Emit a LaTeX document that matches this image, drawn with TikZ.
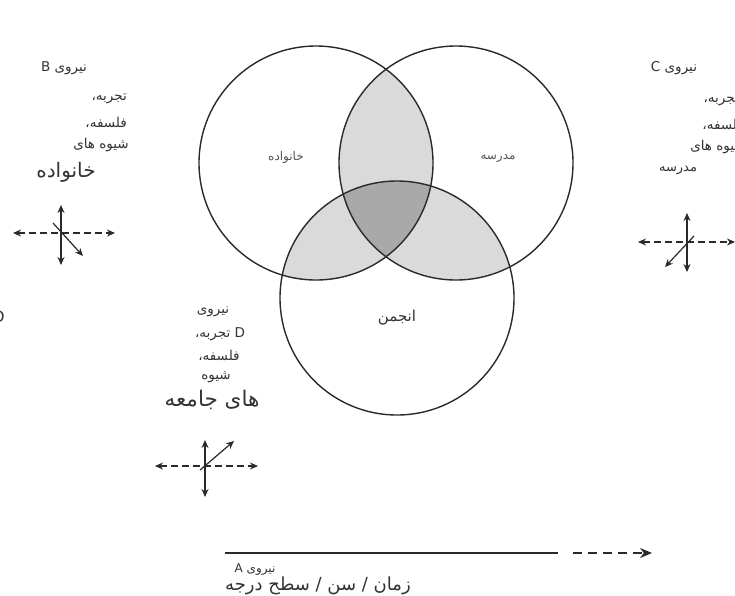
\documentclass[tikz,border=0pt]{standalone}
\usepackage{fontspec}
\setmainfont{DejaVu Sans}
\newfontfamily\arabicfont[Script=Arabic]{DejaVu Sans}
\TeXXeTstate=1
\usetikzlibrary{arrows.meta}
\definecolor{ink}{HTML}{2A2A2A}
\definecolor{txt}{HTML}{333333}
\definecolor{lighttxt}{HTML}{555555}
\definecolor{lightfill}{HTML}{DADADA}
\definecolor{darkfill}{HTML}{A9A9A9}
\tikzset{
  ring/.style={draw=ink,line width=1.4pt},
  arr/.style={draw=ink,line width=1.2pt,-{Stealth[length=8pt,width=7pt]}},
  darr/.style={draw=ink,line width=1.2pt,dash pattern=on 7pt off 4pt,{Stealth[length=8pt,width=7pt]}-{Stealth[length=8pt,width=7pt]}},
  vdarr/.style={draw=ink,line width=1.2pt,{Stealth[length=8pt,width=7pt]}-{Stealth[length=8pt,width=7pt]}},
  fa/.style={text=txt,inner sep=0pt,font=\arabicfont\fontsize{13.5}{15}\selectfont},
  fabig/.style={text=txt,inner sep=0pt,font=\arabicfont\fontsize{20}{22}\selectfont},
  incirc/.style={text=lighttxt,inner sep=0pt,font=\arabicfont\fontsize{12}{14}\selectfont}
}
\begin{document}
\begin{tikzpicture}[x=1pt,y=-1pt]
\useasboundingbox (0,0) rectangle (735,595);
\fill[white] (0,0) rectangle (735,595);
% circle centres
\coordinate (cA) at (316,163);
\coordinate (cB) at (456,163);
\coordinate (cC) at (397,298);
% pairwise overlaps
\begin{scope}\clip (cA) circle[radius=117pt]; \fill[lightfill] (cB) circle[radius=117pt];\end{scope}
\begin{scope}\clip (cA) circle[radius=117pt]; \fill[lightfill] (cC) circle[radius=117pt];\end{scope}
\begin{scope}\clip (cB) circle[radius=117pt]; \fill[lightfill] (cC) circle[radius=117pt];\end{scope}
% triple overlap
\begin{scope}\clip (cA) circle[radius=117pt]; \clip (cB) circle[radius=117pt]; \fill[darkfill] (cC) circle[radius=117pt];\end{scope}
\draw[ring] (cA) circle[radius=117pt];
\draw[ring] (cB) circle[radius=117pt];
\draw[ring] (cC) circle[radius=117pt];
% circle labels
\node[incirc] (lA) at (286,157) {\beginR خانواده\endR};
\node[incirc] (lB) at (498,158) {\beginR مدرسه\endR};
\node[fa,font=\arabicfont\fontsize{15}{17}\selectfont] (lC) at (397,318) {\beginR انجمن\endR};
% force B
\node[fa] (b1) at (64,68) {\beginR نیروی \beginL B\endL\endR};
\node[fa,anchor=east] (b2) at (127,99) {\beginR تجربه،\endR};
\node[fa,anchor=east] (b3) at (127,122) {\beginR فلسفه،\endR};
\node[fa,anchor=east] (b4) at (129,145) {\beginR شیوه های\endR};
\node[fabig] (b5) at (66,172) {\beginR خانواده\endR};
\coordinate (bL) at (13,233); \coordinate (bR) at (115,233);
\coordinate (bT) at (61,205); \coordinate (bB) at (61,265);
\coordinate (bD1) at (53,223); \coordinate (bD2) at (83,256);
\draw[darr] (bL) -- (bR);
\draw[vdarr] (bT) -- (bB);
\draw[arr] (bD1) -- (bD2);
% force C
\node[fa] (c1) at (674,68) {\beginR نیروی \beginL C\endL\endR};
\node[fa,anchor=east] (c2) at (739,101) {\beginR تجربه،\endR};
\node[fa,anchor=east] (c3) at (744,124) {\beginR فلسفه،\endR};
\node[fa,anchor=east] (c4) at (746,147) {\beginR شیوه های\endR};
\node[fa,font=\arabicfont\fontsize{13}{15}\selectfont] (c5) at (678,170) {\beginR مدرسه\endR};
\coordinate (cL) at (638,242); \coordinate (cR) at (735,242);
\coordinate (cT) at (687,213); \coordinate (cBt) at (687,272);
\coordinate (cD1) at (694,236); \coordinate (cD2) at (665,267);
\draw[darr] (cL) -- (cR);
\draw[vdarr] (cT) -- (cBt);
\draw[arr] (cD1) -- (cD2);
% partial D at left edge
\node[fa,anchor=east,font=\fontsize{16}{18}\selectfont] (dcut) at (5,317) {D};
% force D
\node[fa] (d1) at (213,312) {\beginR نیروی\endR};
\node[fa] (d2) at (220,334) {\beginR \beginL D\endL{} تجربه،\endR};
\node[fa] (d3) at (219,355) {\beginR فلسفه،\endR};
\node[fa] (d4) at (216,377) {\beginR شیوه\endR};
\node[fabig,font=\arabicfont\fontsize{21.5}{23}\selectfont] (d5) at (212,400) {\beginR های جامعه\endR};
\coordinate (dL) at (155,466); \coordinate (dR) at (258,466);
\coordinate (dT) at (205,440); \coordinate (dB) at (205,497);
\coordinate (dD1) at (200,470); \coordinate (dD2) at (234,441);
\draw[darr] (dL) -- (dR);
\draw[vdarr] (dT) -- (dB);
\draw[arr] (dD1) -- (dD2);
% force A
\coordinate (a0) at (225,553); \coordinate (a1) at (558,553);
\coordinate (a2) at (573,553); \coordinate (a3) at (652,553);
\draw[draw=ink,line width=2pt] (a0) -- (a1);
\draw[arr,line width=1.4pt,dash pattern=on 9pt off 6pt,-{Stealth[length=12pt,width=10pt]}] (a2) -- (a3);
\node[fa,font=\arabicfont\fontsize{12}{14}\selectfont] (a4) at (255,570) {\beginR نیروی \beginL A\endL\endR};
\node[fabig,font=\arabicfont\fontsize{18}{20}\selectfont,anchor=west] (a5) at (225,586) {\beginR زمان / سن / سطح درجه\endR};
\end{tikzpicture}
\end{document}
